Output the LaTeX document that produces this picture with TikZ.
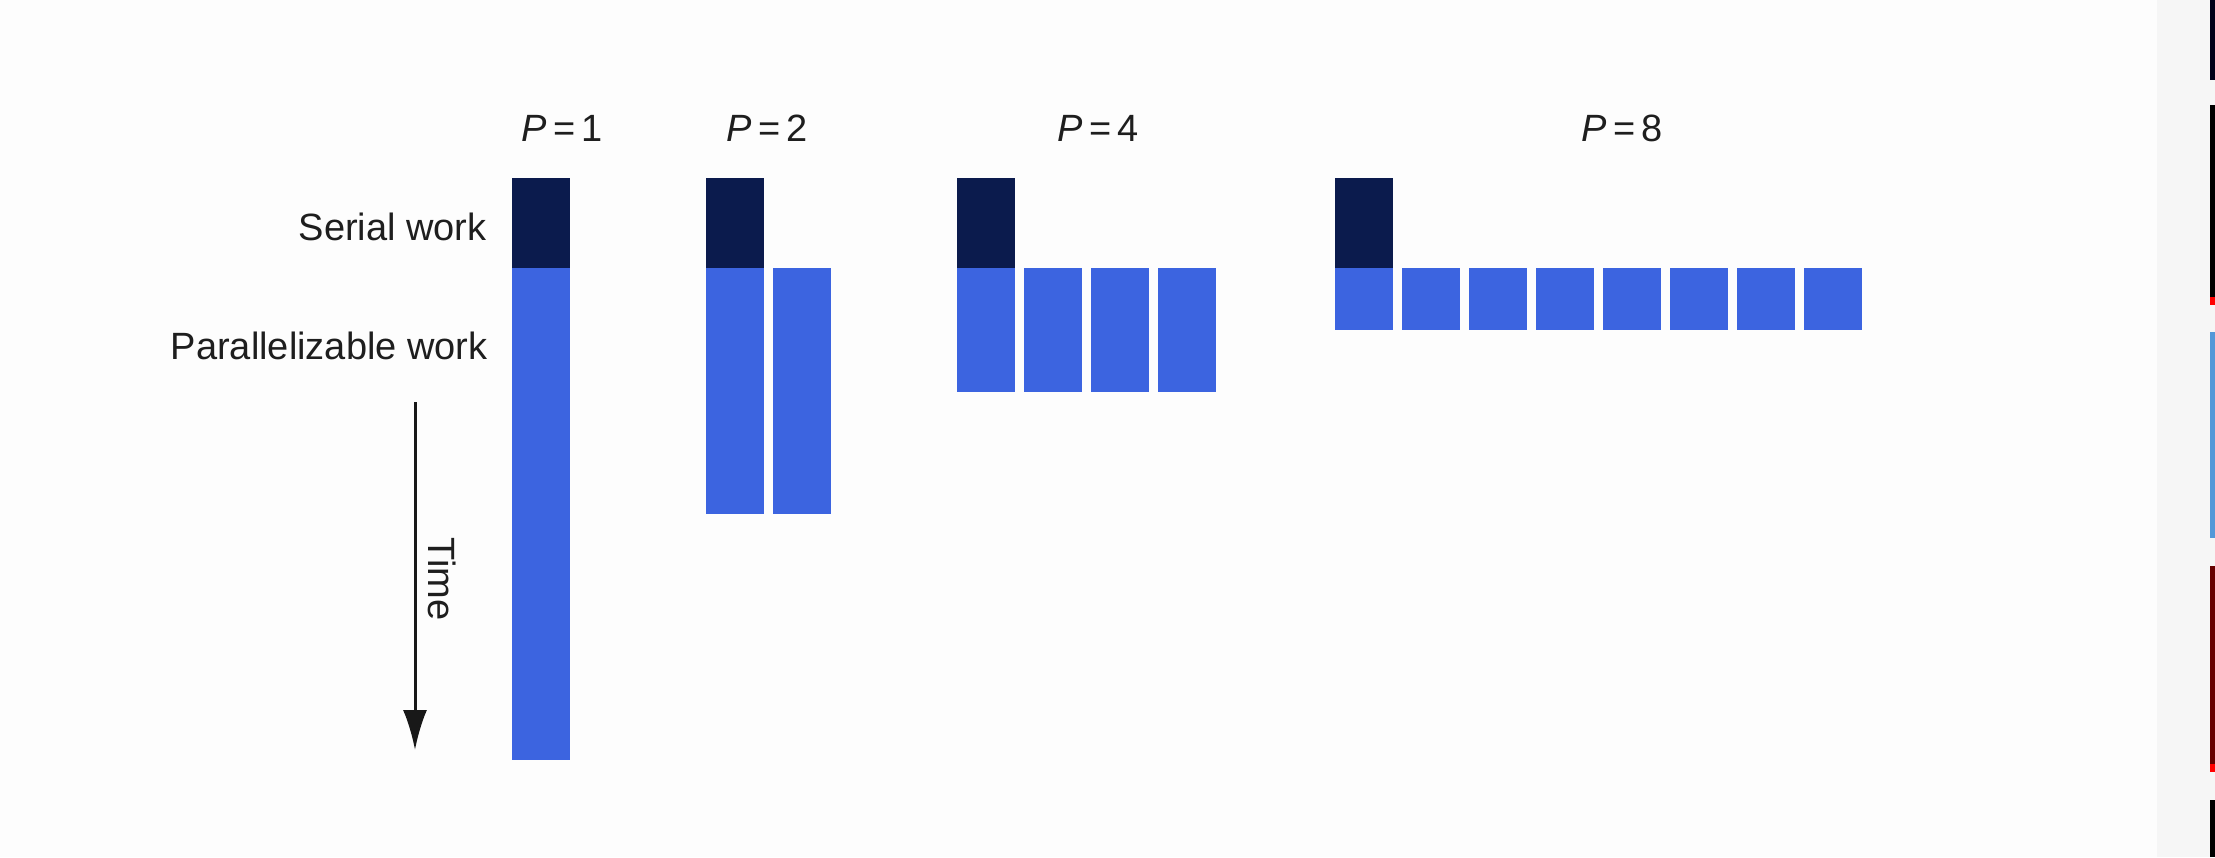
\documentclass[tikz,border=0pt]{standalone}
\usepackage{fontspec}
\setmainfont{Liberation Sans}
\usetikzlibrary{arrows.meta}
\definecolor{serialc}{HTML}{0B1B4D}
\definecolor{parc}{HTML}{3C64E0}
\definecolor{txtc}{HTML}{1E1E1E}
\definecolor{bgc}{HTML}{FDFDFD}
\definecolor{stripc}{HTML}{F6F6F6}
\begin{document}
\begin{tikzpicture}[x=0.5pt,y=-0.5pt,
  serialbox/.style={fill=serialc},
  parbox/.style={fill=parc},
  lbl/.style={text=txtc,font=\fontsize{19}{23}\selectfont,inner sep=0pt},
  timearrow/.style={draw=txtc!80!black,line width=1.5pt,-{Latex[length=20pt,width=12pt]}}]
\fill[bgc] (0,0) rectangle (2215,857);
\useasboundingbox (0,0) rectangle (2215,857);
% right strip of the screenshot
\fill[stripc] (2157,0) rectangle (2215,857);
\fill[black!90!blue] (2210,0) rectangle (2215,80);
\fill[black] (2210,105) rectangle (2215,305);
\fill[red] (2210,297) rectangle (2215,305);
\fill[cyan!60!blue!70!white] (2210,332) rectangle (2215,538);
\fill[black!60!red] (2210,566) rectangle (2215,772);
\fill[red] (2210,764) rectangle (2215,772);
\fill[black] (2210,800) rectangle (2215,857);
% P = 1
\fill[serialbox] (512,178) rectangle (570,268);
\fill[parbox] (512,268) rectangle (570,760);
% P = 2
\fill[serialbox] (706,178) rectangle (764,268);
\foreach \k in {0,1} \fill[parbox] ({706+67*\k},268) rectangle ({764+67*\k},514);
% P = 4
\fill[serialbox] (957,178) rectangle (1015,268);
\foreach \k in {0,...,3} \fill[parbox] ({957+67*\k},268) rectangle ({1015+67*\k},392);
% P = 8
\fill[serialbox] (1335,178) rectangle (1393,268);
\foreach \k in {0,...,7} \fill[parbox] ({1335+67*\k},268) rectangle ({1393+67*\k},330);
% labels
\node[lbl] (p1) at (562,128) {\textit{P}\,=\,1};
\node[lbl] (p2) at (767,128) {\textit{P}\,=\,2};
\node[lbl] (p4) at (1098,128) {\textit{P}\,=\,4};
\node[lbl] (p8) at (1622,128) {\textit{P}\,=\,8};
\node[lbl,anchor=east] (sw) at (487,227) {Serial work};
\node[lbl,anchor=east] (pw) at (488,346) {Parallelizable work};
% time arrow
\coordinate (ta) at (415,402);
\coordinate (tb) at (415,750);
\draw[timearrow] (ta) -- (tb);
\node[lbl,rotate=-90] (time) at (442,579) {Time};
\end{tikzpicture}
\end{document}
